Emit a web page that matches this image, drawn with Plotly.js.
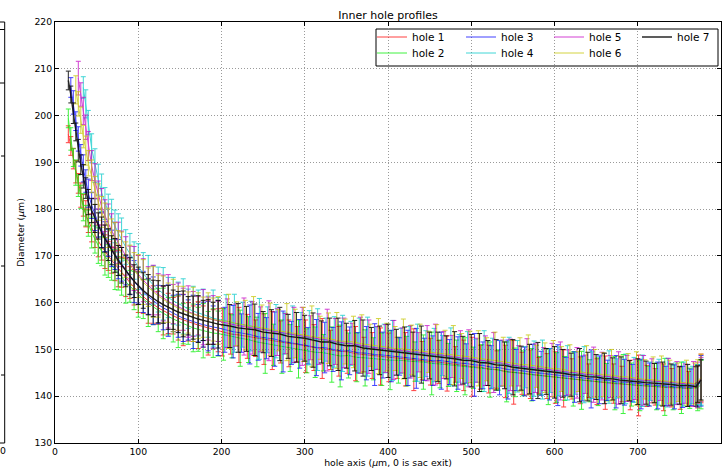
<!DOCTYPE html>
<html>
<head>
<meta charset="utf-8">
<script src="https://cdn.plot.ly/plotly-3.0.1.min.js"></script>
<style>html,body{margin:0;padding:0;background:#fff;}#chart{width:725px;height:469px;}</style>
</head>
<body>
<div id="chart"></div>
<script>
// hole axis positions (µm, 0 is sac exit) - shared near the exit
const xHead = [16,19,22,25,28,31,34,37,40,
  44,48,52,56,60,64,68,72,76,80,85,90,95,100,
  106,112,118,124,130,136,142,148,154,160,166,172,178,184,190,196];
// per-hole sampling positions further along the hole
const xTail1 = [201,211,221,231,241,251,261,271,281,291,301,311,321,331,341,351,361,371,381,391,
  401,411,421,431,441,451,461,471,481,491,501,511,521,531,541,551,561,571,581,591,
  601,611,621,631,641,651,661,671,681,691,701,711,721,731,741,751,761];
const xTail2 = [202.5,212.5,222.5,232.5,242.5,252.5,262.5,272.5,282.5,292.5,302.5,312.5,322.5,332.5,342.5,352.5,362.5,372.5,382.5,392.5,
  402.5,412.5,422.5,432.5,442.5,452.5,462.5,472.5,482.5,492.5,502.5,512.5,522.5,532.5,542.5,552.5,562.5,572.5,582.5,592.5,
  602.5,612.5,622.5,632.5,642.5,652.5,662.5,672.5,682.5,692.5,702.5,712.5,722.5,732.5,742.5,752.5,762.5];
const xTail3 = [204,214,224,234,244,254,264,274,284,294,304,314,324,334,344,354,364,374,384,394,
  404,414,424,434,444,454,464,474,484,494,504,514,524,534,544,554,564,574,584,594,
  604,614,624,634,644,654,664,674,684,694,704,714,724,734,744,754,764];
const xTail4 = [205.5,215.5,225.5,235.5,245.5,255.5,265.5,275.5,285.5,295.5,305.5,315.5,325.5,335.5,345.5,355.5,365.5,375.5,385.5,395.5,
  405.5,415.5,425.5,435.5,445.5,455.5,465.5,475.5,485.5,495.5,505.5,515.5,525.5,535.5,545.5,555.5,565.5,575.5,585.5,595.5,
  605.5,615.5,625.5,635.5,645.5,655.5,665.5,675.5,685.5,695.5,705.5,715.5,725.5,735.5,745.5,755.5,765.5];
const xTail5 = [207,217,227,237,247,257,267,277,287,297,307,317,327,337,347,357,367,377,387,397,
  407,417,427,437,447,457,467,477,487,497,507,517,527,537,547,557,567,577,587,597,
  607,617,627,637,647,657,667,677,687,697,707,717,727,737,747,757,767];
const xTail6 = [208.5,218.5,228.5,238.5,248.5,258.5,268.5,278.5,288.5,298.5,308.5,318.5,328.5,338.5,348.5,358.5,368.5,378.5,388.5,398.5,
  408.5,418.5,428.5,438.5,448.5,458.5,468.5,478.5,488.5,498.5,508.5,518.5,528.5,538.5,548.5,558.5,568.5,578.5,588.5,598.5,
  608.5,618.5,628.5,638.5,648.5,658.5,668.5,678.5,688.5,698.5,708.5,718.5,728.5,738.5,748.5,758.5,768.5];
const xTail7 = [210,220,230,240,250,260,270,280,290,300,310,320,330,340,350,360,370,380,390,400,
  410,420,430,440,450,460,470,480,490,500,510,520,530,540,550,560,570,580,590,600,
  610,620,630,640,650,660,670,680,690,700,710,720,730,740,750,760,770];
const xEnd = [772,776];

const holeNames = ['hole 1','hole 2','hole 3','hole 4','hole 5','hole 6','hole 7'];

// diameters (µm)
const hole1 = [196.0,193.5,190.8,188.0,185.5,183.0,180.8,179.0,177.5,
  176.0,174.5,173.2,172.0,170.9,170.0,169.1,168.2,167.3,166.5,165.4,164.3,163.3,162.3,
  161.3,160.4,159.6,158.9,158.3,157.7,157.2,156.7,156.3,155.9,155.5,155.2,154.9,154.6,154.3,154.1,
  153.7,153.3,153.1,152.8,152.4,152.2,151.9,151.6,151.3,151.1,
  150.7,150.4,150.2,149.9,149.6,149.5,149.1,148.9,148.7,148.5,
  148.3,148.2,147.9,147.8,147.6,147.4,147.3,147.0,146.8,146.6,
  146.3,146.2,145.8,145.7,145.3,145.1,144.9,144.7,144.4,144.3,
  144.0,143.8,143.7,143.4,143.3,143.1,142.9,142.7,142.6,142.4,
  142.3,142.2,142.0,141.9,141.8,141.8,141.6,
  142.0,143.8];
const hole2 = [199.4,195.0,191.0,187.8,185.0,182.6,180.4,178.6,177.0,
  175.0,173.5,172.2,171.0,169.9,168.9,168.0,167.1,166.3,165.5,164.5,163.5,162.6,161.7,
  160.8,159.9,159.1,158.4,157.7,157.1,156.5,156.0,155.5,155.0,154.6,154.3,154.0,153.7,153.5,153.4,
  153.2,152.8,152.4,152.1,151.6,151.3,151.0,150.6,150.3,150.1,
  149.7,149.4,149.3,148.9,148.6,148.7,148.3,148.2,148.0,147.9,
  147.7,147.7,147.5,147.4,147.3,147.0,146.9,146.7,146.5,146.4,
  146.1,146.0,145.7,145.6,145.2,145.1,144.9,144.6,144.4,144.2,
  144.0,143.8,143.7,143.4,143.3,143.1,143.0,142.8,142.6,142.5,
  142.3,142.2,142.1,142.0,141.9,141.8,141.7,
  141.8,142.5];
const hole3 = [null,206.0,202.8,198.8,195.0,191.5,188.7,186.0,183.4,
  180.8,178.8,177.0,175.5,174.1,172.8,171.6,170.4,169.3,168.2,166.9,165.7,164.5,163.4,
  162.3,161.3,160.4,159.6,158.9,158.3,157.7,157.2,156.7,156.3,155.9,155.6,155.3,155.0,154.8,154.6,
  154.2,153.8,153.5,153.2,152.7,152.4,152.2,151.7,151.4,151.2,
  150.8,150.4,150.4,150.0,149.7,149.7,149.3,149.2,148.9,148.8,
  148.6,148.5,148.2,148.1,147.9,147.6,147.6,147.3,147.1,147.0,
  146.7,146.6,146.2,146.1,145.7,145.6,145.3,145.1,144.9,144.7,
  144.5,144.2,144.1,143.8,143.7,143.5,143.4,143.1,143.0,142.8,
  142.6,142.5,142.3,142.2,142.0,142.0,141.9,
  142.2,143.3];
const hole4 = [null,null,null,null,null,null,206.0,202.5,198.5,
  193.0,189.3,186.3,183.5,181.2,179.4,177.8,176.3,174.9,173.5,171.9,170.4,169.0,167.7,
  166.2,164.9,163.8,162.8,161.9,161.1,160.4,159.8,159.2,158.7,158.2,157.8,157.4,157.0,156.7,156.4,
  156.1,155.6,155.3,155.0,154.4,154.2,153.9,153.4,153.2,152.9,
  152.5,152.1,152.1,151.6,151.3,151.3,150.8,150.6,150.3,150.2,
  149.8,149.7,149.4,149.3,149.1,148.8,148.7,148.4,148.1,148.0,
  147.6,147.5,147.1,147.0,146.6,146.4,146.2,145.9,145.7,145.5,
  145.3,145.0,144.9,144.6,144.5,144.2,144.1,143.8,143.7,143.5,
  143.3,143.2,143.0,142.9,142.7,142.6,142.4,
  142.5,143.0];
const hole5 = [null,null,null,null,208.0,204.5,201.0,197.5,193.5,
  189.3,186.0,183.0,180.5,178.6,176.9,175.4,174.1,172.8,171.5,170.0,168.6,167.3,166.1,
  164.8,163.7,162.7,161.8,161.0,160.3,159.7,159.1,158.6,158.1,157.6,157.2,156.9,156.6,156.3,156.0,
  155.6,155.2,154.9,154.6,154.3,154.0,153.7,153.4,153.1,152.8,
  152.5,152.2,152.0,151.7,151.4,151.2,150.9,150.6,150.3,150.2,
  149.9,149.8,149.5,149.4,149.2,148.9,148.8,148.5,148.2,148.1,
  147.7,147.6,147.2,147.1,146.7,146.5,146.3,146.0,145.8,145.6,
  145.4,145.1,145.0,144.7,144.6,144.3,144.2,143.9,143.8,143.6,
  143.4,143.3,143.1,143.0,142.8,142.7,142.6,
  142.9,143.6];
const hole6 = [null,null,null,205.5,202.5,199.0,195.5,192.5,189.8,
  187.0,184.0,181.5,179.4,177.6,176.0,174.5,173.1,171.8,170.6,169.2,168.0,166.8,165.7,
  164.4,163.3,162.3,161.4,160.7,160.0,159.4,158.8,158.3,157.9,157.5,157.2,156.9,156.6,156.4,156.2,
  156.0,155.5,155.2,155.0,154.6,154.3,154.1,153.7,153.4,153.2,
  152.8,152.5,152.4,151.9,151.7,151.6,151.2,150.9,150.7,150.5,
  150.2,150.1,149.9,149.7,149.5,149.3,149.1,148.8,148.6,148.4,
  148.1,147.9,147.6,147.4,147.1,146.8,146.7,146.4,146.1,145.9,
  145.8,145.4,145.3,145.0,144.9,144.6,144.5,144.2,144.1,143.8,
  143.6,143.5,143.3,143.1,143.0,142.9,142.7,
  143.2,144.0];
const hole7 = [207.5,204.5,200.5,196.5,192.5,189.5,187.0,184.5,181.5,
  179.7,178.0,176.4,175.0,173.7,172.4,171.2,170.1,169.0,168.0,166.8,165.7,164.6,163.6,
  162.6,161.7,160.9,160.2,159.6,159.0,158.5,158.0,157.6,157.2,156.8,156.5,156.2,155.9,155.6,155.4,
  155.0,154.6,154.4,154.2,153.7,153.5,153.3,152.8,152.6,152.4,
  152.0,151.6,151.6,151.1,150.8,150.8,150.3,150.1,149.8,149.7,
  149.4,149.3,149.0,148.9,148.7,148.4,148.3,148.0,147.7,147.6,
  147.2,147.1,146.7,146.6,146.2,146.0,145.8,145.5,145.3,145.1,
  144.9,144.6,144.5,144.2,144.1,143.8,143.7,143.4,143.3,143.1,
  142.9,142.8,142.6,142.5,142.3,142.3,142.1,
  142.6,143.5];

// error (± µm)
const err1 = [1.8,2.0,2.2,2.4,2.1,2.6,2.3,2.8,2.5,
  3.0,2.7,3.4,2.9,3.6,3.1,2.8,3.5,3.9,3.2,4.1,3.4,3.8,4.4,
  3.6,4.8,4.0,3.5,5.2,4.3,3.9,4.7,5.5,4.1,3.8,5.0,4.4,5.8,4.2,4.6,
  5.1,4.3,5.9,4.7,3.9,5.4,6.2,4.5,5.0,3.8,5.6,4.9,6.4,4.2,5.3,4.6,5.8,3.7,4.9,6.1,
  5.2,4.4,5.7,6.6,4.1,5.0,4.6,5.9,3.8,5.4,6.3,4.7,5.1,4.0,5.6,6.8,4.5,5.2,3.9,4.8,
  5.5,6.1,4.3,5.0,3.6,4.9,5.7,4.2,3.8,5.3,6.5,4.4,3.9,5.0,4.1,4.6,3.7,4.5,5.2];
const err2 = [2.0,2.4,1.9,2.7,2.3,2.5,2.9,2.2,2.8,
  3.3,2.9,3.8,3.1,4.0,3.5,3.2,4.3,3.6,3.9,4.6,3.4,4.1,4.8,
  4.2,5.0,3.8,4.6,5.4,4.0,4.9,5.6,4.3,3.9,5.1,4.7,5.8,4.4,5.2,4.8,
  5.5,4.6,6.0,4.9,5.3,6.4,4.4,5.7,5.0,6.2,4.7,5.4,3.9,5.9,6.6,4.8,5.2,6.0,4.5,5.6,
  6.3,4.9,5.3,4.2,5.8,6.7,5.1,4.6,5.5,6.1,4.4,5.0,5.9,4.3,6.4,5.2,4.8,5.6,4.1,6.0,
  5.3,4.7,5.8,6.2,4.5,5.1,4.0,5.7,6.3,4.6,5.4,4.2,5.0,6.1,4.8,5.5,4.3,4.9,5.2];
const err3 = [1.7,2.1,2.5,2.0,2.6,2.3,2.9,2.4,3.0,
  2.8,3.4,3.0,3.7,3.2,2.9,3.9,3.3,4.2,3.6,3.1,4.0,4.5,3.7,
  4.4,3.8,5.1,4.1,4.7,5.5,3.9,4.6,5.0,4.3,5.7,4.0,4.8,5.3,4.5,5.9,
  4.8,5.6,4.1,6.3,5.0,4.4,5.8,6.5,4.6,5.2,3.9,6.0,5.4,4.7,6.2,5.1,4.3,5.7,6.6,4.9,
  5.5,4.0,5.9,6.4,4.5,5.3,6.1,4.8,5.6,4.2,6.7,5.0,4.6,5.8,6.3,4.4,5.2,6.0,4.7,5.5,
  6.5,4.1,5.4,4.8,6.2,5.1,4.3,5.6,4.9,4.0,5.3,4.6,5.0,4.2,4.7,4.4,3.9,4.5,5.4];
const err4 = [2.2,2.6,2.1,2.8,2.4,2.7,2.3,3.0,2.6,
  3.1,3.6,3.3,4.0,3.4,3.8,4.3,3.5,4.1,4.6,3.7,4.4,4.0,4.9,
  4.5,5.2,4.1,4.8,5.6,4.3,5.0,4.6,5.9,4.2,5.3,4.9,5.5,4.4,6.0,4.7,
  5.6,6.2,4.8,5.3,6.5,4.9,5.7,4.4,6.1,5.0,5.8,6.6,4.6,5.4,6.0,4.7,5.9,6.3,4.5,5.2,
  6.4,4.8,5.5,6.1,4.9,5.7,4.3,6.2,5.1,5.8,4.6,6.5,5.3,4.9,6.0,5.5,4.4,5.9,6.3,4.7,
  5.2,5.8,4.5,6.0,5.0,4.6,5.6,4.2,5.3,4.8,5.5,4.1,4.9,5.2,4.4,4.7,4.0,4.3,4.9];
const err5 = [2.3,2.0,2.7,2.4,3.6,2.5,2.9,2.6,3.1,
  3.2,3.7,3.0,3.9,3.4,4.2,3.6,3.1,4.4,3.8,4.1,3.5,4.7,4.0,
  4.6,4.0,5.3,4.4,4.9,5.7,4.2,5.1,4.5,5.5,4.8,4.1,5.9,4.6,5.2,4.3,
  5.2,4.5,6.1,5.6,4.8,6.4,5.0,4.3,5.9,6.2,4.7,5.4,6.6,4.9,5.3,4.4,6.0,5.7,4.6,5.1,
  6.3,4.8,5.6,4.2,5.9,6.5,5.0,4.5,5.8,6.1,4.7,5.3,6.4,4.9,5.5,4.3,6.0,5.2,4.6,5.7,
  6.2,4.8,5.4,4.1,5.9,5.1,4.5,5.6,4.9,4.3,5.3,4.7,4.0,5.1,4.6,4.2,4.8,4.4,4.7];
const err6 = [2.1,2.5,2.2,3.0,2.6,2.8,2.4,3.1,2.7,
  3.5,3.0,3.9,3.3,3.7,4.2,3.4,4.0,3.6,4.5,3.8,4.3,3.9,4.6,
  4.8,4.1,5.4,4.5,5.0,4.2,5.6,4.7,5.2,4.4,5.8,4.9,4.3,5.5,4.6,5.1,
  5.8,4.7,5.3,6.3,4.9,5.6,4.4,6.1,5.2,5.8,6.5,4.6,5.4,6.0,4.8,5.5,6.2,4.5,5.9,5.1,
  4.7,6.4,5.3,5.7,4.4,6.0,5.0,6.3,4.8,5.5,5.9,4.6,6.1,5.2,4.9,5.7,6.4,4.5,5.3,6.0,
  4.8,5.6,4.3,5.8,5.1,4.7,5.5,4.4,5.0,5.7,4.2,4.9,5.3,4.6,4.1,4.8,4.4,4.6,5.0];
const err7 = [2.0,1.8,2.2,1.9,2.4,2.1,2.5,2.2,2.7,
  2.6,3.0,2.8,3.3,2.9,3.4,3.1,3.6,3.2,3.8,3.4,3.9,3.5,4.0,
  3.8,4.3,3.9,4.5,4.0,4.7,4.2,4.4,4.9,4.1,4.6,5.0,4.3,4.8,4.5,5.1,
  4.6,5.2,4.8,5.5,4.4,5.0,5.7,4.7,5.3,4.9,5.8,4.5,5.1,5.6,4.8,5.4,6.0,4.6,5.2,5.7,
  4.9,5.5,4.7,6.1,5.0,5.3,4.6,5.8,5.1,5.6,6.2,4.8,5.4,5.0,5.9,4.7,5.3,6.0,4.9,5.5,
  5.1,4.6,5.7,5.2,4.8,5.4,4.5,5.0,4.3,4.9,4.6,4.2,4.7,4.4,4.0,4.5,4.2,3.9,4.3];

const holeValues = [hole1, hole2, hole3, hole4, hole5, hole6, hole7];
const holeErrors = [err1, err2, err3, err4, err5, err6, err7];
const holeTails = [xTail1, xTail2, xTail3, xTail4, xTail5, xTail6, xTail7];
const holeColors = ['#ff0000','#00ee00','#0000ff','#00c8c8','#c400c4','#c4c400','#000000'];
const legendIds = ['legend','legend2','legend3','legend4','legend5','legend6','legend7'];

const FONT = 'DejaVu Sans, Liberation Sans, sans-serif';

const traces = holeValues.map((vals, i) => ({
  type: 'scatter',
  mode: 'lines',
  name: holeNames[i],
  x: xHead.concat(holeTails[i], xEnd),
  y: vals,
  legend: legendIds[i],
  opacity: i === 6 ? 0.85 : 0.75,
  line: {color: holeColors[i], width: i === 6 ? 1.4 : 1},
  error_y: {type: 'data', array: holeErrors[i], visible: true, color: holeColors[i], thickness: 1, width: 2.5},
  hoverinfo: 'skip'
}));

const px2x = p => (p - 55) / 666;
const px2y = p => (443 - p) / 421;

// legend grid: 4 columns x 2 rows, filled column-wise
const legendCols = [372, 461, 549, 637];
const legendRowsTop = [22.5, 38.5];
const legendBase = {
  orientation: 'v', xanchor: 'left', yanchor: 'top',
  bgcolor: 'rgba(0,0,0,0)', borderwidth: 0, itemwidth: 30, tracegroupgap: 0,
  font: {family: FONT, size: 10.5, color: '#000'}
};

const frag = {xref: 'paper', yref: 'paper', type: 'line', line: {color: '#000', width: 1}};
const shapes = [
  // legend frame
  {type: 'rect', xref: 'paper', yref: 'paper', x0: px2x(376), x1: px2x(718), y0: px2y(66), y1: px2y(29),
   fillcolor: '#fff', line: {color: '#000', width: 1}, layer: 'between'},
  // fragment of neighbouring panel on the left edge
  Object.assign({}, frag, {x0: px2x(4.7), x1: px2x(4.7), y0: 0, y1: 1}),
  Object.assign({}, frag, {x0: px2x(0), x1: px2x(4.7), y0: 1, y1: 1}),
  Object.assign({}, frag, {x0: px2x(0), x1: px2x(4.7), y0: 0, y1: 0}),
  Object.assign({}, frag, {x0: px2x(0), x1: px2x(4.7), y0: px2y(29.5), y1: px2y(29.5)}),
  Object.assign({}, frag, {x0: px2x(0), x1: px2x(4.7), y0: px2y(83), y1: px2y(83)}),
  Object.assign({}, frag, {x0: px2x(1), x1: px2x(4.7), y0: px2y(156), y1: px2y(156)}),
  Object.assign({}, frag, {x0: px2x(1), x1: px2x(4.7), y0: px2y(266), y1: px2y(266)}),
  Object.assign({}, frag, {x0: px2x(1), x1: px2x(4.7), y0: px2y(375), y1: px2y(375)})
];

const axisCommon = {
  showline: true, linecolor: '#000', linewidth: 1, mirror: 'ticks',
  ticks: 'inside', ticklen: 4, tickwidth: 1, tickcolor: '#000',
  showgrid: true, gridcolor: '#9a9a9a', griddash: '1px,2px', gridwidth: 1,
  zeroline: false, automargin: false,
  tickfont: {family: FONT, size: 9.3, color: '#000'}
};

const layout = {
  width: 725, height: 469,
  margin: {l: 55, r: 4, t: 22, b: 26, pad: 0},
  paper_bgcolor: '#fff', plot_bgcolor: '#fff',
  title: {text: 'Inner hole profiles', font: {family: FONT, size: 11, color: '#000'},
          x: 388 / 725, xanchor: 'center', y: 1 - 15.5 / 469, yanchor: 'middle', yref: 'container'},
  xaxis: Object.assign({}, axisCommon, {
    range: [0, 800], dtick: 100, tick0: 0,
    title: {text: 'hole axis (<i>μ</i>m, 0 is sac exit)', font: {family: FONT, size: 9.3, color: '#000'}, standoff: 2}
  }),
  yaxis: Object.assign({}, axisCommon, {
    range: [130, 220], dtick: 10, tick0: 130,
    title: {text: 'Diameter (<i>μ</i>m)', font: {family: FONT, size: 9.3, color: '#000'}, standoff: 8}
  }),
  shapes: shapes,
  annotations: [
    {xref: 'paper', yref: 'paper', x: px2x(3), y: px2y(450), text: '0', showarrow: false,
     xanchor: 'center', yanchor: 'middle', font: {family: FONT, size: 9.3, color: '#000'}}
  ],
  showlegend: true
};
legendIds.forEach((id, i) => {
  layout[id] = Object.assign({}, legendBase, {
    x: px2x(legendCols[Math.floor(i / 2)]),
    y: px2y(legendRowsTop[i % 2])
  });
});

Plotly.newPlot('chart', traces, layout, {staticPlot: true, displayModeBar: false});
</script>
</body>
</html>
